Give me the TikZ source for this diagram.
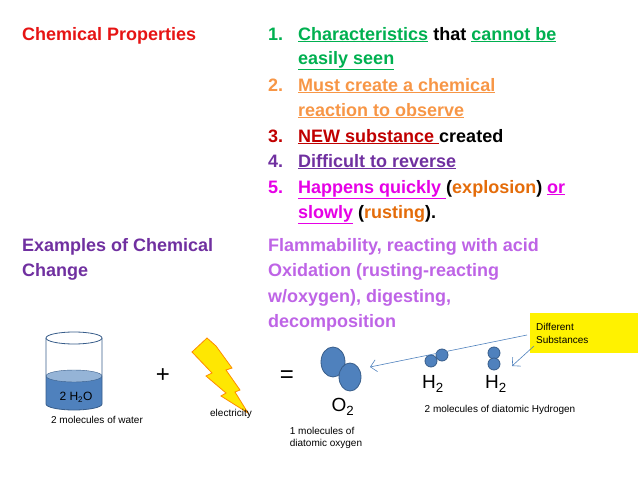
\documentclass[tikz,border=0pt]{standalone}
\usepackage{fontspec}
\setmainfont{Liberation Sans}
\usetikzlibrary{arrows.meta}
\definecolor{cpred}{RGB}{230,20,20}
\definecolor{cpgreen}{RGB}{0,176,80}
\definecolor{cporange}{RGB}{247,150,70}
\definecolor{cpdark}{RGB}{192,0,0}
\definecolor{cppurple}{RGB}{112,48,160}
\definecolor{cpmagenta}{RGB}{230,0,230}
\definecolor{cpbrown}{RGB}{228,108,10}
\definecolor{cplilac}{RGB}{190,100,230}
\definecolor{cpblue}{RGB}{79,129,189}
\definecolor{cpedge}{RGB}{56,93,138}
\tikzset{
  big/.style={anchor=base west, inner sep=0pt, font=\fontsize{18}{22}\selectfont\bfseries},
  small/.style={inner sep=0pt, font=\fontsize{10}{12}\selectfont},
  formula/.style={inner sep=0pt, font=\fontsize{19}{21}\selectfont},
  atom/.style={fill=cpblue, draw=cpedge, thick},
  note/.style={-{Straight Barb[length=6pt]}, cpblue, semithick}
}
\begin{document}
\begin{tikzpicture}[x=1pt,y=-1pt]
\useasboundingbox (0,0) rectangle (638,479);

% heading column
\node[big, cpred] (props) at (22,40) {Chemical Properties};
\node[big, cppurple] (ex1) at (22,251) {Examples of Chemical};
\node[big, cppurple] (ex2) at (22,276) {Change};

% numbered list
\node[big, cpgreen] (n1) at (268,40) {1.};
\node[big] (l1a) at (298,40) {\textcolor{cpgreen}{\underline{Characteristics}} that \textcolor{cpgreen}{\underline{cannot be}}};
\node[big, cpgreen] (l1b) at (298,64) {\underline{easily seen}};
\node[big, cporange] (n2) at (268,91) {2.};
\node[big, cporange] (l2a) at (298,91) {\underline{Must create a chemical}};
\node[big, cporange] (l2b) at (298,116) {\underline{reaction to observe}};
\node[big, cpdark] (n3) at (268,142) {3.};
\node[big] (l3) at (298,142) {\textcolor{cpdark}{\underline{NEW substance }}created};
\node[big, cppurple] (n4) at (268,167) {4.};
\node[big, cppurple] (l4) at (298,167) {\underline{Difficult to reverse}};
\node[big, cpmagenta] (n5) at (268,193) {5.};
\node[big] (l5a) at (298,193) {\textcolor{cpmagenta}{\underline{Happens quickly }}(\textcolor{cpbrown}{explosion}) \textcolor{cpmagenta}{\underline{or}}};
\node[big] (l5b) at (298,218) {\textcolor{cpmagenta}{\underline{slowly}} (\textcolor{cpbrown}{rusting}).};

% examples
\node[big, cplilac] (e1) at (268,251) {Flammability, reacting with acid};
\node[big, cplilac] (e2) at (268,276) {Oxidation (rusting-reacting};
\node[big, cplilac] (e3) at (268,302) {w/oxygen), digesting,};
\node[big, cplilac] (e4) at (268,327) {decomposition};

% beaker
\fill[cpblue] (46,376) -- (46,404) arc[start angle=180, end angle=0, x radius=28, y radius=6] -- (102,376) -- cycle;
\fill[cpblue!60!white, draw=cpedge] (74,376) ellipse[x radius=28, y radius=6];
\draw[cpedge, thick] (46,338) -- (46,404) arc[start angle=180, end angle=0, x radius=28, y radius=6] -- (102,338);
\draw[cpedge, thick, fill=white] (74,338) ellipse[x radius=28, y radius=6];
\node[inner sep=0pt, font=\fontsize{12}{14}\selectfont] (water) at (76,397) {2 H\textsubscript{2}O};
\node[small] (waterlbl) at (97,420) {2 molecules of water};

\node[formula, font=\fontsize{24}{26}\selectfont] (plus) at (163,376) {+};

% lightning
\draw[fill=yellow!90!orange, draw=orange!90!yellow, thick] (207,338) -- (192,352) -- (212,373) -- (206,376) -- (226,393) -- (221,396) -- (248,413) -- (235,392) -- (240,390) -- (226,370) -- (232,368) -- (216,346) -- cycle;
\node[small] (elec) at (231,414) {electricity};

\node[formula, font=\fontsize{24}{26}\selectfont] (equals) at (287,377) {=};

% oxygen
\draw[atom] (333,362) ellipse[x radius=12, y radius=15];
\draw[atom] (350,377) ellipse[x radius=11, y radius=14];
\node[formula] (o2) at (343,407) {O\textsubscript{2}};
\node[small, align=left] (o2lbl) at (326,438) {1 molecules of\\diatomic oxygen};

% hydrogen
\draw[atom] (431,361) circle[radius=6];
\draw[atom] (442,355) circle[radius=6];
\draw[atom] (494,353) circle[radius=6];
\draw[atom] (494,364) circle[radius=6];
\node[formula] (h2a) at (433,384) {H\textsubscript{2}};
\node[formula] (h2b) at (496,384) {H\textsubscript{2}};
\node[small] (h2lbl) at (500,410) {2 molecules of diatomic Hydrogen};

% label box
\node[fill=yellow, minimum width=108pt, minimum height=40pt, inner sep=6pt, align=left, anchor=north west, text width=96pt, font=\fontsize{10}{13}\selectfont] (diff) at (530,313) {Different\\Substances};
\coordinate (tipo) at (370,367);
\coordinate (tiph) at (512,366);
\coordinate (starto) at (527,335);
\coordinate (starth) at (534,346);
\draw[note] (starto) -- (tipo);
\draw[note] (starth) -- (tiph);
\end{tikzpicture}
\end{document}
